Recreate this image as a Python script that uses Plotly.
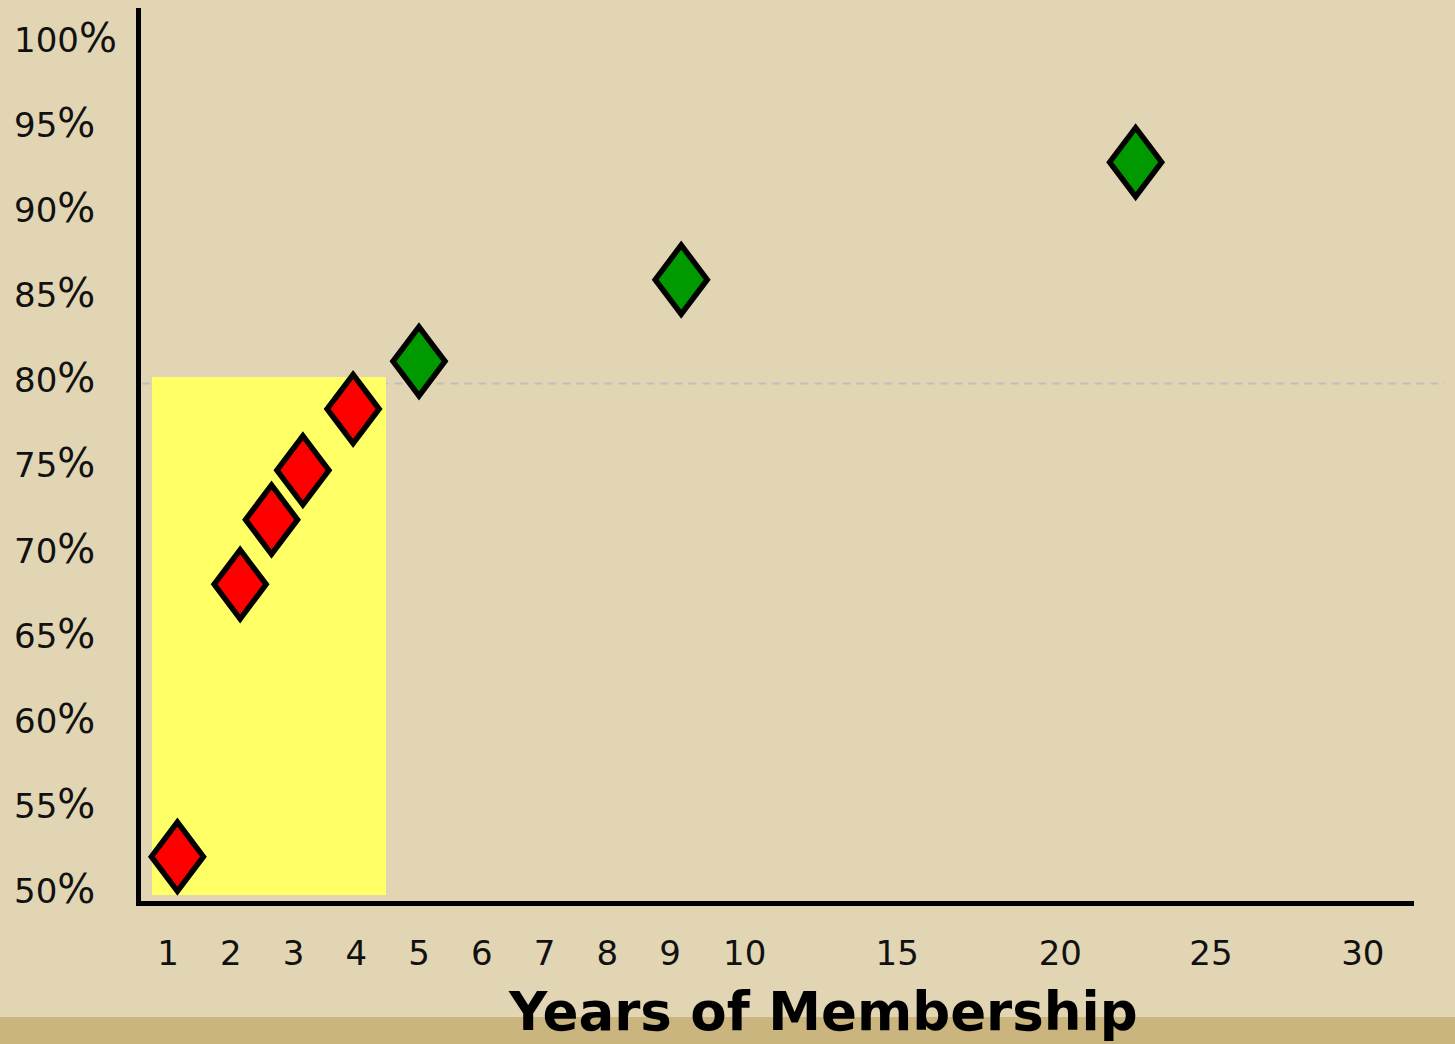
import numpy as np
import plotly.graph_objects as go

# ---- data ----
tick_years = [1, 2, 3, 4, 5, 6, 7, 8, 9, 10, 15, 20, 25, 30]
tick_pos = [1, 2, 3, 4, 5, 6, 7, 8, 9, 10.19, 12.62, 15.22, 17.62, 20.04]  # uneven axis scale
tick_text = [str(t) for t in tick_years]

years_red = [1.15, 2.15, 2.65, 3.15, 3.95]
pct_red = [51.9, 67.9, 71.7, 74.6, 78.2]
years_green = [5.0, 9.15, 22.5]
pct_green = [81.0, 85.8, 92.7]

y_tick_vals = [50, 55, 60, 65, 70, 75, 80, 85, 90, 95, 100]
y_tick_text = [f"{v}%" for v in y_tick_vals]

threshold_pct = 79.7
highlight_years = [0.745, 4.474]
highlight_pct = [49.65, 80.08]

# ---- styling ----
BG = "#E2D5B3"
FONT = "DejaVu Sans"
W, H = 1455, 1044
ML, MR, MT, MB = 141, 41, 8, 143
X_RANGE = [0.570, 20.856]
Y_RANGE = [49.295, 101.76]
plot_w = W - ML - MR
plot_h = H - MT - MB
px_per_x = plot_w / (X_RANGE[1] - X_RANGE[0])
px_per_y = plot_h / (Y_RANGE[1] - Y_RANGE[0])
half_w_px, half_h_px = 26.0, 34.5
dx = half_w_px / px_per_x
dy = half_h_px / px_per_y


def to_pos(years):
    years = np.asarray(years, dtype=float)
    return np.where(years <= 9, years, np.interp(years, tick_years, tick_pos))


fig = go.Figure()


def add_diamonds(years, pcts, color):
    for xv, yv in zip(to_pos(years), pcts):
        xs = [xv + dx / 2, xv + dx, xv, xv - dx, xv, xv + dx / 2]
        ys = [yv + dy / 2, yv, yv - dy, yv, yv + dy, yv + dy / 2]
        fig.add_trace(go.Scatter(
            x=xs, y=ys, mode="lines", fill="toself", fillcolor=color,
            line=dict(color="black", width=5.5, simplify=False),
            hoverinfo="skip", showlegend=False))


add_diamonds(years_red, pct_red, "#FF0000")
add_diamonds(years_green, pct_green, "#009900")

# highlight region
fig.add_shape(type="rect", xref="x", yref="y",
              x0=float(to_pos([highlight_years[0]])[0]), x1=float(to_pos([highlight_years[1]])[0]),
              y0=highlight_pct[0], y1=highlight_pct[1],
              fillcolor="#FFFF66", line=dict(width=0), layer="below")
# threshold dashed line
fig.add_shape(type="line", xref="paper", yref="y",
              x0=0.001, x1=(1445 - ML) / plot_w, y0=threshold_pct, y1=threshold_pct,
              line=dict(color="#BFBFBF", width=2, dash="8px,6px"), layer="below")
# bottom band
fig.add_shape(type="rect", xref="paper", yref="paper",
              x0=-0.2, x1=1.2, y0=-(1017 - (H - MB)) / plot_h, y1=-0.3,
              fillcolor="#C9B57D", line=dict(width=0), layer="below")

# y tick labels (left aligned)
for v, t in zip(y_tick_vals, y_tick_text):
    label = t.replace("%", '<span style="font-size:40px">%</span>')
    fig.add_annotation(text=label, xref="paper", yref="y", x=(12 - ML) / plot_w, y=v,
                       xanchor="left", yanchor="middle", showarrow=False,
                       font=dict(family=FONT, size=34, color="#111111"))

# axis title
fig.add_annotation(text="<b>Years of Membership</b>", xref="paper", yref="paper",
                   x=(823 - ML) / plot_w, y=-(1011 - (H - MB)) / plot_h,
                   xanchor="center", yanchor="middle", showarrow=False,
                   font=dict(family=FONT, size=53, color="black"))

fig.update_layout(
    width=W, height=H,
    margin=dict(l=ML, r=MR, t=MT, b=MB),
    paper_bgcolor=BG, plot_bgcolor=BG,
    showlegend=False,
    xaxis=dict(range=X_RANGE, tickvals=tick_pos, ticktext=tick_text,
               showline=True, linewidth=5, linecolor="black",
               showgrid=False, zeroline=False, ticks="",
               tickfont=dict(family=FONT, size=34, color="#111111"),
               ticklabelstandoff=18),
    yaxis=dict(range=Y_RANGE, showline=True, linewidth=5, linecolor="black",
               showgrid=False, zeroline=False, ticks="", showticklabels=False),
)

fig.write_html("out.html", config={"displayModeBar": False},
               post_script="document.body.style.margin='0';document.body.style.overflow='hidden';")
